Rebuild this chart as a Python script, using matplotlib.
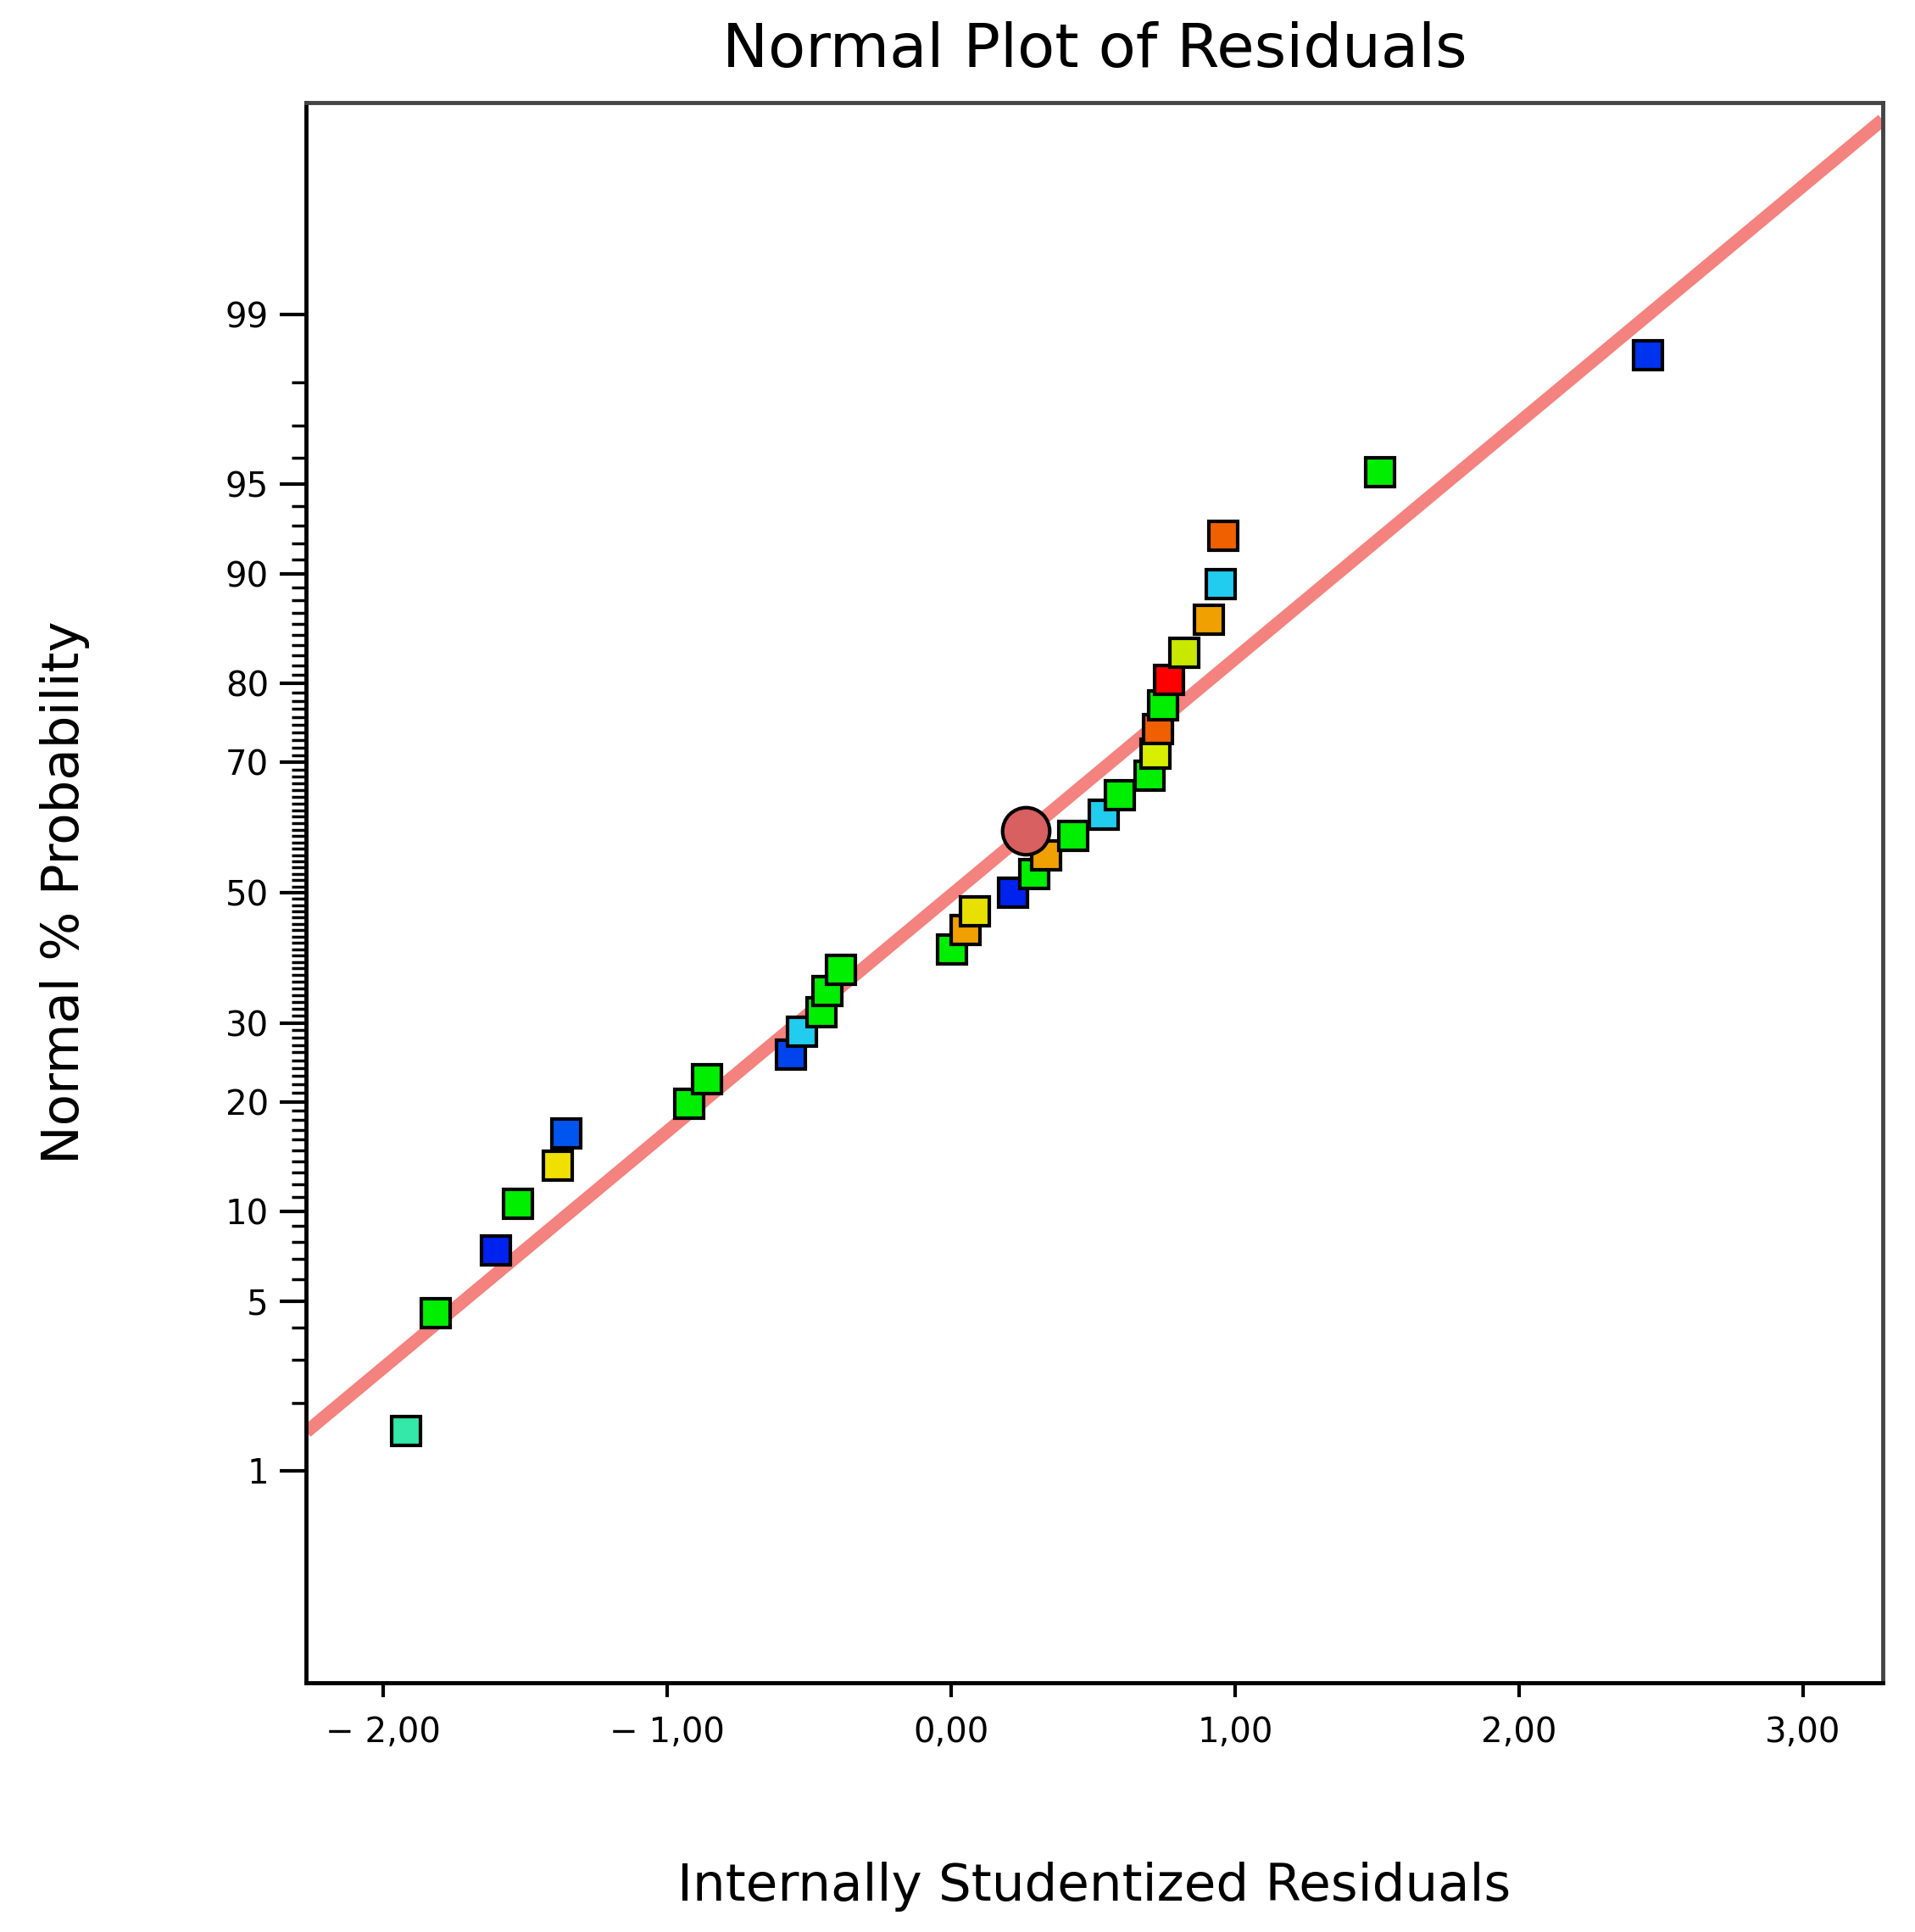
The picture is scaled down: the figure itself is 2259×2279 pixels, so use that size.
import numpy as np
import matplotlib
matplotlib.use("Agg")
import matplotlib.pyplot as plt
from statistics import NormalDist

nd = NormalDist()
res = [-1.918,-1.814,-1.602,-1.524,-1.386,-1.356,-0.923,-0.858,-0.564,-0.525,-0.456,-0.434,-0.387,
       0.003,0.050,0.085,0.219,0.292,0.336,0.431,0.539,0.595,0.699,0.721,0.729,0.747,0.768,0.820,
       0.907,0.950,0.958,1.512,2.455]
zval = [-2.168,-1.693,-1.441,-1.252,-1.099,-0.970,-0.851,-0.752,-0.653,-0.559,-0.480,-0.396,-0.312,
        -0.228,-0.149,-0.074,0.0,0.074,0.149,0.228,0.312,0.391,0.470,0.559,0.658,0.752,0.856,0.965,
        1.099,1.243,1.436,1.693,2.163]
colors = ["#33e8a8","#00ee00","#0022ee","#00ee00","#f0e000","#0055ee","#00ee00","#00ee00","#0044ee",
          "#22ccee","#00ee00","#00ee00","#00ee00","#00ee00","#f0a000","#e8e000","#0022ee","#00ee00",
          "#f0a000","#00ee00","#22ccee","#00ee00","#00ee00","#d8f000","#f06000","#00ee00","#ff0000",
          "#c8e800","#f0a000","#22ccee","#f06000","#00ee00","#0033ee"]
highlight = (0.262, 0.248)
line_x = [-2.27, 3.28]
line_z = [-2.17, 3.11]
major_pct = [1,5,10,20,30,50,70,80,90,95,99]
xticks = [-2,-1,0,1,2,3]

fig = plt.figure(figsize=(22.59,22.79), dpi=100)
ax = fig.add_axes([0.160,0.129,0.823,0.818])
ax.plot(line_x, line_z, color="#f4827e", lw=11, solid_capstyle="butt", zorder=1)
for x,z,c in zip(res,zval,colors):
    ax.plot(x,z,'s',ms=24,mfc=c,mec="black",mew=3,zorder=3)
ax.plot(*highlight,'o',ms=40,mfc="#d96060",mec="black",mew=3,zorder=4)
ax.set_xlim(-2.27,3.28)
ax.set_ylim(-3.18,3.18)
ax.set_xticks(xticks)
ax.set_xticklabels([("\u2212 " if v<0 else "")+f"{abs(v):.2f}".replace(".",",") for v in xticks])
ax.set_yticks([nd.inv_cdf(p/100) for p in major_pct])
ax.set_yticklabels([str(p) for p in major_pct])
minor = [p for p in range(2,99) if p not in major_pct]
ax.set_yticks([nd.inv_cdf(p/100) for p in minor], minor=True)
ax.tick_params(axis='y', which='major', length=22, width=3, labelsize=29, pad=10)
ax.tick_params(axis='y', which='minor', length=12, width=2.5)
ax.tick_params(axis='x', which='major', length=12, width=3, labelsize=29, pad=16)
for s in ax.spines.values():
    s.set_linewidth(3.5)
ax.spines['top'].set_color('#444444'); ax.spines['right'].set_color('#444444')
ax.set_title("Normal Plot of Residuals", fontsize=52, pad=30)
ax.set_xlabel("Internally Studentized Residuals", fontsize=44, labelpad=95)
ax.set_ylabel("Normal % Probability", fontsize=44, labelpad=115)
fig.savefig("out.png", dpi=100)
